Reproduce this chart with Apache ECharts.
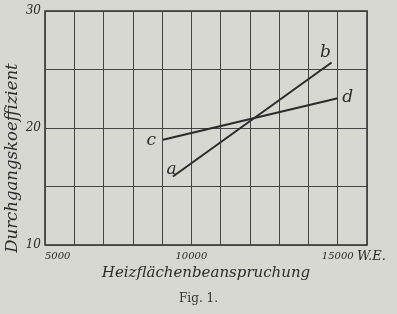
<!DOCTYPE html>
<html>
<head>
<meta charset="utf-8">
<script src="https://cdn.jsdelivr.net/npm/echarts@6/dist/echarts.min.js"></script>
<style>html,body{margin:0;padding:0;background:#d8d8d2;}#c{width:397px;height:314px;}</style>
</head>
<body>
<div id="c"></div>
<script>
const xLabels = [5000, 10000, 15000];
const yLabels = [10, 20, 30];
const lineAB_x = [9370, 14790];
const lineAB_y = [15.85, 25.6];
const lineCD_x = [9030, 15000];
const lineCD_y = [19.0, 22.55];
const lineNames = ['a', 'b', 'c', 'd'];

const ink = '#2b2b2b';
const scriptFont = { fontFamily: 'DejaVu Serif', fontStyle: 'italic', color: ink };

function pts(xs, ys) { return xs.map((x, i) => [x, ys[i]]); }
const ab = pts(lineAB_x, lineAB_y);
const cd = pts(lineCD_x, lineCD_y);

function lbl(name, pos) {
  return Object.assign({ show: true, formatter: name, position: pos, fontSize: 17, opacity: 1 }, scriptFont);
}

const chart = echarts.init(document.getElementById('c'));
chart.setOption({
  backgroundColor: '#d8d8d2',
  animation: false,
  title: {
    text: 'Fig. 1.', left: 'center', top: 288,
    textStyle: { fontFamily: 'DejaVu Serif', fontWeight: 'normal', fontSize: 12, color: '#333' }
  },
  grid: { left: 45, right: 30, top: 11, bottom: 69, show: true, borderColor: ink, borderWidth: 1.5,
          backgroundColor: 'transparent', containLabel: false, outerBoundsMode: 'none' },
  xAxis: {
    type: 'value', min: 5000, max: 16000, interval: 1000,
    name: 'Heizflächenbeanspruchung', nameLocation: 'middle', nameGap: 20,
    nameTextStyle: Object.assign({ fontSize: 15 }, scriptFont),
    axisLine: { show: false }, axisTick: { show: false },
    splitLine: { lineStyle: { color: '#444', width: 1 } },
    axisLabel: Object.assign({ fontSize: 10, margin: 6, alignMinLabel: 'left',
      formatter: v => xLabels.includes(v) ? String(v) : '' }, scriptFont)
  },
  yAxis: {
    type: 'value', min: 10, max: 30, interval: 5,
    axisLine: { show: false }, axisTick: { show: false },
    splitLine: { lineStyle: { color: '#444', width: 1 } },
    axisLabel: Object.assign({ fontSize: 12, margin: 4,
      formatter: v => yLabels.includes(v) ? String(v) : '' }, scriptFont)
  },
  graphic: [
    {
      type: 'text', left: 357, top: 250,
      style: { text: 'W.E.', font: 'italic 13px "DejaVu Serif"', fill: ink }
    },
    {
      type: 'text', x: 13, y: 158, rotation: Math.PI / 2,
      style: { text: 'Durchgangskoeffizient', font: 'italic 16.5px "DejaVu Serif"', fill: ink,
               align: 'center', verticalAlign: 'middle' }
    }
  ],
  series: [
    {
      type: 'line', name: 'a-b', symbol: 'none',
      lineStyle: { color: ink, width: 2 },
      data: ab
    },
    {
      type: 'line', name: 'c-d', symbol: 'none',
      lineStyle: { color: ink, width: 2 },
      data: cd
    },
    {
      type: 'scatter', name: 'labels', symbolSize: 1, itemStyle: { color: 'rgba(0,0,0,0)' },
      data: [
        { value: ab[0], label: lbl(lineNames[0], [-6, -15]) },
        { value: ab[1], label: lbl(lineNames[1], [-11, -18]) },
        { value: cd[0], label: lbl(lineNames[2], [-16, -7]) },
        { value: cd[1], label: lbl(lineNames[3], [5, -9]) }
      ]
    }
  ]
});
</script>
</body>
</html>
